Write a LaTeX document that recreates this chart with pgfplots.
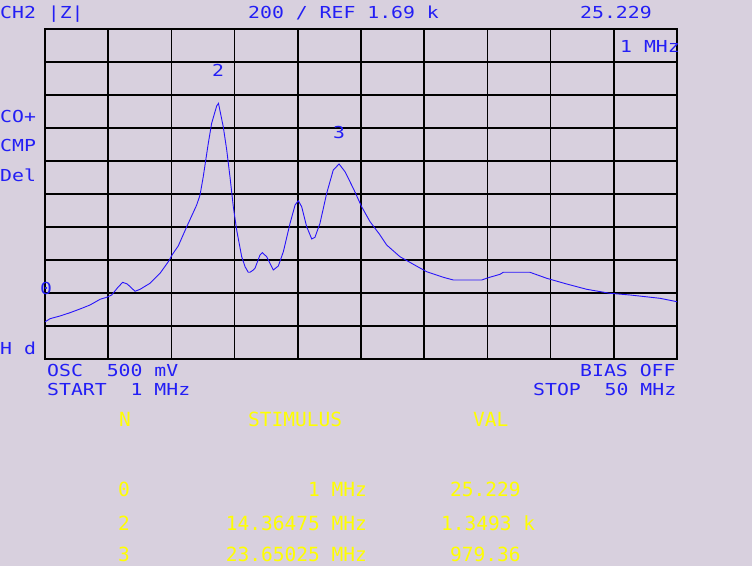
\documentclass[border=0pt]{standalone}
\usepackage{fontspec}
\usepackage{pgfplots}
\pgfplotsset{compat=1.18}
\newfontfamily\bluefont[FakeStretch=1.2]{DejaVu Sans Mono}
\newfontfamily\yelfont{DejaVu Sans Mono}
\definecolor{bg}{RGB}{216,208,222}
\definecolor{txtblue}{RGB}{35,30,245}
\definecolor{trace}{RGB}{40,20,250}
\definecolor{yel}{RGB}{255,255,0}
\newcommand{\B}[3]{\node[anchor=base west,inner sep=0,text=txtblue,font=\bluefont\fontsize{16.5bp}{18bp}\selectfont] at (#1,#2) {#3};}
\newcommand{\BR}[3]{\node[anchor=base east,inner sep=0,text=txtblue,font=\bluefont\fontsize{16.5bp}{18bp}\selectfont] at (#1,#2) {#3};}
\newcommand{\Y}[3]{\node[anchor=base west,inner sep=0,text=yel,font=\yelfont\fontsize{19.5bp}{21bp}\selectfont] at (#1,#2) {#3};}
\newcommand{\YR}[3]{\node[anchor=base east,inner sep=0,text=yel,font=\yelfont\fontsize{19.5bp}{21bp}\selectfont] at (#1,#2) {#3};}
\begin{document}
\begin{tikzpicture}
\useasboundingbox (0,0) rectangle (752bp,566bp);
\clip (0,0) rectangle (752bp,566bp);
\fill[bg] (0,0) rectangle (752bp,566bp);
\begin{axis}[at={(45bp,207bp)}, anchor=south west, scale only axis,
  width=632bp, height=330bp,
  xmin=1, xmax=50, ymin=-200, ymax=1800,
  xtick={1,5.9,10.8,15.7,20.6,25.5,30.4,35.3,40.2,45.1,50},
  ytick={-200,0,200,400,600,800,1000,1200,1400,1600,1800},
  xticklabels={}, yticklabels={},
  major tick length=0pt,
  grid=major, grid style={black, line width=1.5bp},
  axis line style={black, line width=1.5bp},
  axis background/.style={fill=bg}]
\addplot[trace, line width=0.9bp, no marks] table[x=f,y=z] {
f z
1.00 25.2
1.39 44.2
2.16 60.6
2.94 80.6
3.71 103
4.49 127.3
5.27 161.8
5.78 173.9
6.17 187.9
6.61 230.3
7.02 264.8
7.38 254.5
7.98 210.3
8.37 222.4
9.14 258.8
9.92 319.4
10.56 389.7
10.90 436.4
11.33 484.8
11.99 601.8
12.76 733.3
13.02 793.9
13.27 904.8
13.66 1107.2
13.92 1228.4
14.31 1333.3
14.45 1349.3
14.82 1207.8
15.09 1066.7
15.34 904.8
15.60 723
15.86 581.8
16.25 420
16.51 359.4
16.76 325.5
16.89 325.5
17.15 339.4
17.28 349.7
17.67 430.3
17.85 444.2
18.19 420
18.31 400
18.70 339.4
19.09 363.6
19.48 450.3
20.00 622.4
20.39 733.3
20.64 759.4
20.90 723
21.29 601.8
21.68 527.3
21.93 537.6
22.32 622.4
22.84 804.2
23.35 945.5
23.80 982
24.26 935.1
24.90 834.5
25.55 723
26.20 632.1
26.92 557.6
27.49 490.9
28.52 420
29.56 373.9
30.59 329.1
31.88 295.2
32.66 278.8
34.86 278.8
35.37 292.7
36.28 313.3
36.53 325.5
38.60 325.5
39.90 289.1
41.45 254.5
43.00 222.4
44.80 198.2
46.36 187.9
48.68 167.9
50.00 147.3
};
\end{axis}
\begin{scope}[x=1bp, y=-1bp, yshift=566bp]
\B{0}{19}{CH2 |Z|}
\B{248}{19}{200 / REF 1.69 k}
\B{580}{19}{25.229}
\B{620}{53}{1 MHz}
\B{212}{77}{2}
\B{333}{139}{3}
\B{0}{123}{CO+}
\B{0}{152}{CMP}
\B{0}{182}{Del}
\B{40}{295}{0}
\B{0}{355}{H d}
\B{47}{377}{OSC\ \ 500 mV}
\B{47}{396}{START\ \ 1 MHz}
\B{580}{377}{BIAS OFF}
\B{533}{396}{STOP\ \ 50 MHz}
\Y{119}{427}{N}
\Y{248}{427}{STIMULUS}
\Y{473}{427}{VAL}
\Y{118}{497}{0}
\YR{367}{497}{1 MHz}
\Y{450}{497}{25.229}
\Y{118}{531}{2}
\YR{367}{531}{14.36475 MHz}
\Y{441}{531}{1.3493 k}
\Y{118}{562}{3}
\YR{367}{562}{23.65025 MHz}
\Y{450}{562}{979.36}
\end{scope}
\end{tikzpicture}
\end{document}
